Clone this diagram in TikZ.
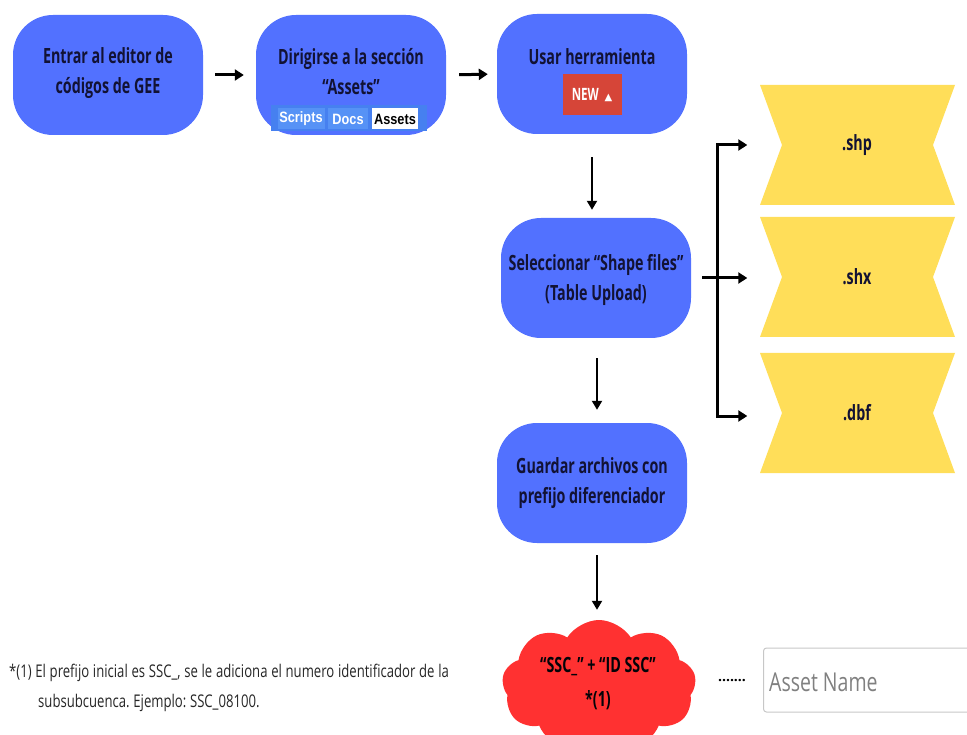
\documentclass[tikz,border=0pt]{standalone}
\usepackage{fontspec}
\setmainfont{Open Sans}
\newfontfamily\cond[FakeStretch=0.68]{Open Sans}
\newfontfamily\condr[FakeStretch=0.75]{Open Sans}
\newfontfamily\narrow[FakeStretch=0.85]{Liberation Sans}
\newfontfamily\dejavu{DejaVu Sans}
\usetikzlibrary{arrows.meta,shapes.symbols}
\definecolor{boxblue}{RGB}{82,113,255}
\definecolor{navy}{RGB}{18,18,52}
\definecolor{ylw}{RGB}{255,222,89}
\definecolor{cloudred}{RGB}{255,49,49}
\definecolor{newred}{RGB}{214,69,56}
\definecolor{tabblue}{RGB}{70,128,240}
\definecolor{tabcell}{RGB}{86,146,246}
\begin{document}
\frenchspacing
\begin{tikzpicture}[x=1pt,y=-1pt,
  bluebox/.style={fill=boxblue, rounded corners=40pt, minimum width=190pt, minimum height=120pt, inner sep=0pt},
  boxtext/.style={align=center, font=\cond\bfseries\fontsize{21}{30}\selectfont, text=navy, inner sep=0pt},
  ybox/.style={minimum width=195pt, minimum height=120pt, inner sep=0pt, font=\cond\bfseries\fontsize{21}{30}\selectfont, text=navy},
  tharr/.style={line width=3pt, -{Triangle[length=9pt,width=11pt]}},
  tnarr/.style={line width=2pt, -{Triangle[length=9pt,width=10pt]}},
  tab/.style={inner sep=0pt, minimum height=21pt, font=\narrow\bfseries\fontsize{15}{15}\selectfont},
  fntext/.style={anchor=base west, inner sep=0pt, text=black!85, font={\condr\fontsize{17.5}{20}\selectfont\spaceskip=3.7pt plus 1pt minus 0.5pt}}
]
\useasboundingbox (0,0) rectangle (967,735);

% yellow file shapes (drawn first, labels on top)
\foreach \cy in {145,277,413}{
  \fill[ylw] (760,\cy-60) -- (955,\cy-60) -- (933,\cy) -- (955,\cy+60) -- (760,\cy+60) -- (782,\cy) -- cycle;
}
\node[ybox] (s1) at (857,145) {.shp};
\node[ybox] (s2) at (857,277) {.shx};
\node[ybox] (s3) at (857,413) {.dbf};

% step 1
\node[bluebox] (b1) at (108,75) {};
\node[boxtext] (t1) at (108,73) {Entrar al editor de\\códigos de GEE};
% step 2
\node[bluebox] (b2) at (351,75) {};
\node[boxtext] (t2) at (351,72) {Dirigirse a la sección\\“Assets”};
\node[fill=tabblue, minimum width=156pt, minimum height=26pt, inner sep=0pt] (tabbar) at (349,118) {};
\node[tab, fill=tabcell, text=white, minimum width=47pt] (tscr) at (301,119) {Scripts};
\node[tab, fill=tabcell, text=white, minimum width=40pt] (tdoc) at (348,119) {Docs};
\node[tab, fill=white, text=black, minimum width=46pt] (tass) at (395,119) {Assets};
% step 3
\node[bluebox] (b3) at (592,74) {};
\node[boxtext] (t3) at (592,57) {Usar herramienta};
\node[fill=newred, minimum width=59pt, minimum height=41pt, inner sep=0pt, text=white, font=\cond\bfseries\fontsize{17}{17}\selectfont] (new) at (592,95) {NEW\,\,{\dejavu\fontsize{10}{10}\selectfont▲}};
% step 4
\node[bluebox] (b4) at (596,278) {};
\node[boxtext] (t4) at (596,280) {Seleccionar “Shape files”\\(Table Upload)};
% step 5
\node[bluebox] (b5) at (592,483) {};
\node[boxtext] (t5) at (592,483) {Guardar archivos con\\prefijo diferenciador};
% cloud
\node[cloud, cloud puffs=9, cloud puff arc=115, aspect=1.5, fill=cloudred, minimum width=194pt, minimum height=132pt, inner sep=0pt] (cl) at (599,686) {};
\node[boxtext, text=black!85!navy, font=\cond\bfseries\fontsize{21}{34}\selectfont] (tcl) at (598,684) {“SSC\_” + “ID SSC”\\*(1)};

% connectors
\draw[tharr, shorten <=12pt, shorten >=12pt] (b1.east) -- (b2.west);
\draw[tharr, shorten <=13pt, shorten >=9pt] (b2.east) -- (b3.west);
\draw[tnarr, shorten <=23pt, shorten >=8pt] (b3.south) -- (b3.south |- b4.north);
\draw[tnarr, shorten <=20pt, shorten >=13pt] ([xshift=1pt]b4.south) -- ([xshift=1pt]b4.south |- b5.north);
\draw[tnarr, shorten <=12pt, shorten >=10pt] ([xshift=5pt]b5.south) -- ([xshift=5pt]b5.south |- cl.north);
\coordinate (jm) at (717,278);
\draw[tharr, shorten <=11pt, shorten >=12pt] (b4.east) -- (b4.east -| s2.west);
\draw[tharr, shorten >=12pt] (jm) |- (s1.west);
\draw[tharr, shorten >=12pt] (jm) |- ([yshift=-3pt]s3.west);

% asset name field
\node[draw=black!22, line width=1pt, rounded corners=3pt, anchor=west, minimum width=215pt, minimum height=64pt] (asset) at (763,680) {};
\node[anchor=west, inner sep=0pt, text=black!50, font={\condr\fontsize{26}{26}\selectfont\spaceskip=5pt}] (assettext) at (769,682) {Asset Name};
\node[font=\bfseries\fontsize{14}{14}\selectfont, inner sep=0pt] (dots) at (732,681) {.......};

% footnote
\node[fntext] (fnA) at (9,677) {*(1) El prefijo inicial es SSC\_, se le adiciona el numero identificador de la};
\node[fntext] (fnB) at (38,707) {subsubcuenca. Ejemplo: SSC\_08100.};
\end{tikzpicture}
\end{document}
